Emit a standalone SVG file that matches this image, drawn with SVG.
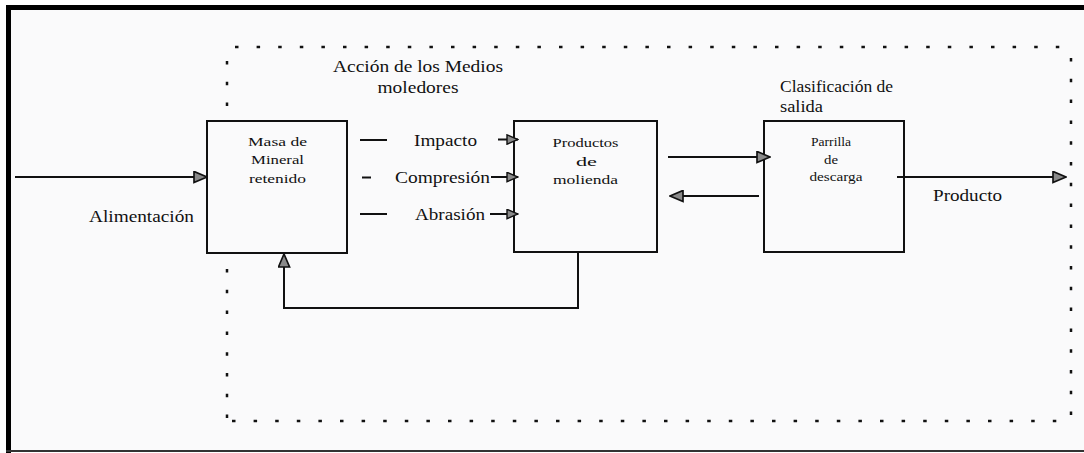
<svg xmlns="http://www.w3.org/2000/svg" width="1084" height="453" viewBox="0 0 1084 453">
<defs>
<style>
.box{fill:none;stroke:#111;stroke-width:2}
.ln{fill:none;stroke:#111;stroke-width:2}
text{font-family:'Liberation Serif','DejaVu Serif','Times New Roman',serif;fill:#111}
.t{font-size:16px}
.bt{font-size:13.5px;text-anchor:middle}
.dh{fill:none;stroke:#111;stroke-width:2.5;stroke-dasharray:3.5 18.1}
.dv{fill:none;stroke:#111;stroke-width:2.5;stroke-dasharray:3.5 17.3}
</style>
<marker id="ah" viewBox="0 0 16 14" refX="15" refY="7" markerWidth="15" markerHeight="13" markerUnits="userSpaceOnUse" orient="auto">
<path d="M1,1 L15,7 L1,13 Z" fill="#8a8a8a" stroke="#111" stroke-width="1.8" stroke-linejoin="miter"/>
</marker>
<marker id="ahs" viewBox="0 0 16 14" refX="15" refY="7" markerWidth="13" markerHeight="11" markerUnits="userSpaceOnUse" orient="auto">
<path d="M1,1 L15,7 L1,13 Z" fill="#8a8a8a" stroke="#111" stroke-width="1.8"/>
</marker>
</defs>
<rect x="0" y="0" width="1084" height="453" fill="#ffffff"/>
<rect x="8" y="8" width="1076" height="443" fill="#fafafb"/>
<g id="frame">
<rect x="6" y="5" width="1078" height="5" fill="#000"/>
<rect x="6" y="5" width="5" height="448" fill="#000"/>
<rect x="6" y="450" width="1078" height="2" fill="#333"/>
</g>
<g id="dotted-boundary">
<line class="dh" x1="235" y1="47" x2="1066" y2="47"/>
<line class="dh" x1="232" y1="421" x2="1066" y2="421"/>
<line class="dv" x1="227" y1="61" x2="227" y2="112"/>
<line class="dv" x1="227" y1="269" x2="227" y2="423"/>
<line class="dv" x1="1071" y1="58" x2="1071" y2="423"/>
</g>
<g id="label-accion">
<text class="t" x="418" y="72" text-anchor="middle" textLength="170" lengthAdjust="spacingAndGlyphs" font-family="Liberation Serif, serif">Acción de los Medios</text>
<text class="t" x="418" y="93" text-anchor="middle" textLength="81" lengthAdjust="spacingAndGlyphs" font-family="Liberation Serif, serif">moledores</text>
</g>
<g id="label-clasificacion">
<text class="t" x="780" y="92" textLength="113" lengthAdjust="spacingAndGlyphs" font-family="Liberation Serif, serif">Clasificación de</text>
<text class="t" x="780" y="112" textLength="43" lengthAdjust="spacingAndGlyphs" font-family="Liberation Serif, serif">salida</text>
</g>
<g id="node-masa">
<rect class="box" x="207" y="121" width="140" height="132"/>
<text class="bt" x="277.5" y="146" textLength="59" lengthAdjust="spacingAndGlyphs" font-family="Liberation Serif, serif">Masa de</text>
<text class="bt" x="277.5" y="164" textLength="53" lengthAdjust="spacingAndGlyphs" font-family="Liberation Serif, serif">Mineral</text>
<text class="bt" x="277.5" y="183" textLength="57" lengthAdjust="spacingAndGlyphs" font-family="Liberation Serif, serif">retenido</text>
</g>
<g id="node-productos">
<rect class="box" x="514" y="121" width="143" height="131"/>
<text class="bt" x="585.5" y="147" textLength="66" lengthAdjust="spacingAndGlyphs" font-family="Liberation Serif, serif">Productos</text>
<text class="bt" x="586.5" y="166" textLength="21" lengthAdjust="spacingAndGlyphs" font-family="Liberation Serif, serif">de</text>
<text class="bt" x="585.5" y="184" textLength="65" lengthAdjust="spacingAndGlyphs" font-family="Liberation Serif, serif">molienda</text>
</g>
<g id="node-parrilla">
<rect class="box" x="764" y="121" width="140" height="131"/>
<text class="bt" x="831" y="146" textLength="40" lengthAdjust="spacingAndGlyphs" font-family="Liberation Serif, serif">Parrilla</text>
<text class="bt" x="831" y="164" textLength="14" lengthAdjust="spacingAndGlyphs" font-family="Liberation Serif, serif">de</text>
<text class="bt" x="836" y="181" textLength="53" lengthAdjust="spacingAndGlyphs" font-family="Liberation Serif, serif">descarga</text>
</g>
<g id="connectors">
<line class="ln" x1="15" y1="177" x2="207" y2="177" marker-end="url(#ah)"/>
<line class="ln" x1="360" y1="140" x2="387" y2="140"/>
<line class="ln" x1="362" y1="177.5" x2="371" y2="177.5"/>
<line class="ln" x1="360" y1="214" x2="387" y2="214"/>
<line class="ln" x1="498" y1="139.5" x2="518" y2="139.5" marker-end="url(#ahs)"/>
<line class="ln" x1="491" y1="177" x2="518" y2="177" marker-end="url(#ahs)"/>
<line class="ln" x1="490" y1="214" x2="518" y2="214" marker-end="url(#ahs)"/>
<line class="ln" x1="668" y1="157" x2="770" y2="157" marker-end="url(#ah)"/>
<line class="ln" x1="759" y1="196" x2="670" y2="196" marker-end="url(#ah)"/>
<line class="ln" x1="897" y1="177" x2="1066" y2="177" marker-end="url(#ah)"/>
<polyline class="ln" points="578,252 578,308 284,308 284,254" marker-end="url(#ah)"/>
</g>
<g id="connector-labels">
<text class="t" x="445.5" y="146" text-anchor="middle" textLength="63" lengthAdjust="spacingAndGlyphs" font-family="Liberation Serif, serif">Impacto</text>
<text class="t" x="442.5" y="183" text-anchor="middle" textLength="95" lengthAdjust="spacingAndGlyphs" font-family="Liberation Serif, serif">Compresión</text>
<text class="t" x="450" y="220" text-anchor="middle" textLength="70" lengthAdjust="spacingAndGlyphs" font-family="Liberation Serif, serif">Abrasión</text>
<text class="t" x="141.5" y="222" text-anchor="middle" textLength="105" lengthAdjust="spacingAndGlyphs" font-family="Liberation Serif, serif">Alimentación</text>
<text class="t" x="967.5" y="201" text-anchor="middle" textLength="69" lengthAdjust="spacingAndGlyphs" font-family="Liberation Serif, serif">Producto</text>
</g>
</svg>
